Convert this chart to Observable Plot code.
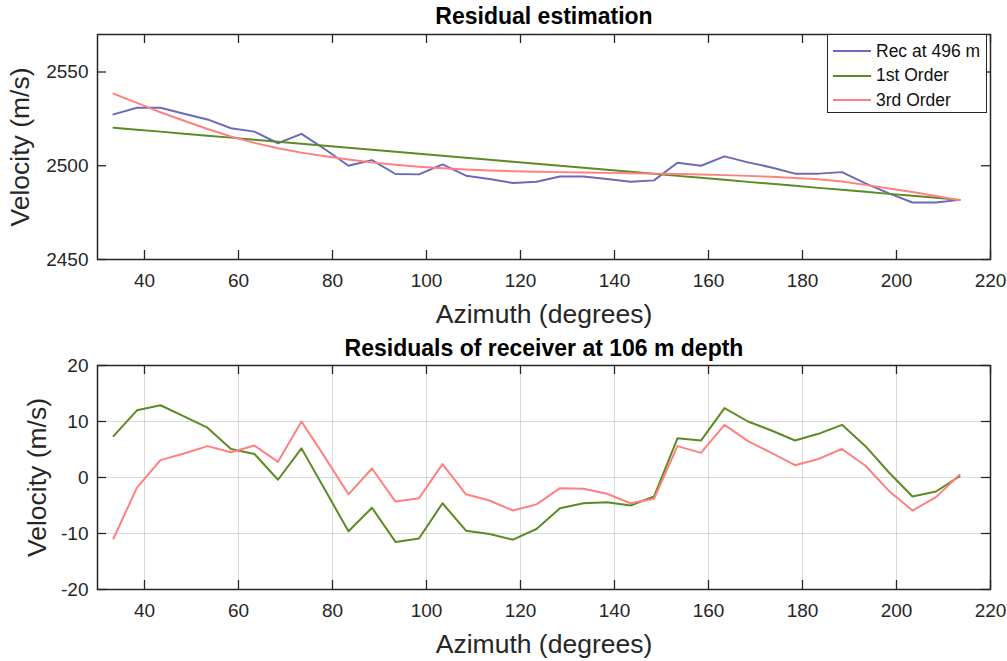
<!DOCTYPE html>
<html><head><meta charset="utf-8">
<script src="https://cdn.jsdelivr.net/npm/d3@7"></script>
<script src="https://cdn.jsdelivr.net/npm/@observablehq/plot@0.6"></script>
<style>
html,body{margin:0;padding:0;background:#fff;overflow:hidden}
#wrap{position:relative;width:1007px;height:661px;font-family:"Liberation Sans",Arial,sans-serif}
#wrap svg{display:block}
#legend{position:absolute;left:827px;top:34px;width:160px;height:79px;border:1px solid #262626;background:#fff;box-sizing:border-box}
.row{position:absolute;left:5px;height:20px;display:flex;align-items:center;font-size:17.5px;color:#111;white-space:nowrap}
.row svg{margin-right:5px}
</style></head>
<body><div id="wrap"><div id="chartTop"></div><div id="chartBot"></div><div id="legend"></div></div>
<script>
// ---- data ----
const azimuth = [33.4,38.4,43.4,48.4,53.4,58.4,63.4,68.4,73.4,78.4,83.4,88.4,93.4,98.4,103.4,108.4,113.4,118.4,123.4,128.4,133.4,138.4,143.4,148.4,153.4,158.4,163.4,168.4,173.4,178.4,183.4,188.4,193.4,198.4,203.4,208.4,213.4];
const recVelocity = [2527.4,2530.9,2530.9,2527.7,2524.7,2520.0,2518.2,2512.0,2517.0,2508.8,2500.0,2503.0,2495.6,2495.4,2500.7,2494.7,2492.9,2490.8,2491.5,2494.3,2494.3,2492.9,2491.5,2492.2,2501.6,2500.0,2505.0,2501.8,2499.1,2495.8,2495.8,2496.6,2490.6,2485.3,2480.4,2480.4,2481.8];
const fit1st = [2520.3,2519.2,2518.2,2517.1,2516.0,2515.0,2513.9,2512.8,2511.7,2510.7,2509.6,2508.5,2507.5,2506.4,2505.3,2504.3,2503.2,2502.1,2501.1,2500.0,2498.9,2497.9,2496.8,2495.7,2494.6,2493.6,2492.5,2491.4,2490.4,2489.3,2488.2,2487.2,2486.1,2485.0,2484.0,2482.9,2481.8];
const fit3rd = [2538.5,2533.5,2528.5,2524.0,2519.6,2515.6,2512.2,2509.3,2507.0,2505.1,2503.3,2501.8,2500.5,2499.5,2498.7,2498.0,2497.5,2497.1,2496.8,2496.6,2496.4,2496.2,2496.0,2495.8,2495.6,2495.3,2495.0,2494.6,2494.1,2493.5,2492.8,2491.6,2489.8,2487.9,2486.0,2483.9,2481.6];
const resid1st = [7.4,12.0,12.9,10.9,8.9,5.1,4.2,-0.4,5.2,-2.2,-9.6,-5.4,-11.5,-10.9,-4.6,-9.5,-10.1,-11.1,-9.2,-5.5,-4.6,-4.4,-5.0,-3.4,7.0,6.6,12.4,10.0,8.4,6.6,7.8,9.4,5.6,0.9,-3.4,-2.5,0.2];
const resid3rd = [-10.9,-1.8,3.1,4.3,5.6,4.5,5.7,2.8,10.0,3.6,-3.0,1.6,-4.3,-3.7,2.4,-3.0,-4.1,-5.9,-4.8,-1.9,-2.0,-2.9,-4.6,-3.8,5.6,4.4,9.4,6.5,4.4,2.2,3.3,5.1,2.1,-2.4,-5.9,-3.5,0.5];
const xTicks = [40,60,80,100,120,140,160,180,200,220];
const topYTicks = [2450,2500,2550];
const botYTicks = [-20,-10,0,10,20];
const seriesNames = ["Rec at 496 m","1st Order","3rd Order"];
const seriesColors = ["#6a6ab9","#5b8b22","#ff8080"];
const titleTop = "Residual estimation";
const titleBot = "Residuals of receiver at 106 m depth";
const xLabel = "Azimuth (degrees)";
const yLabel = "Velocity (m/s)";

(function () {
const AX = "#262626";
const FONT = "'Liberation Sans', Arial, sans-serif";
const W = 1007, ML = 97, MR = 17;
const FW = W - ML - MR;
const fmt = d => String(d);

function ticksAndFrame(FH, yTicks) {
  return [
    Plot.frame({stroke: AX, strokeWidth: 1.5}),
    Plot.tickX(xTicks, {x: d => d, insetTop: FH - 9, stroke: AX, strokeWidth: 1.3}),
    Plot.tickX(xTicks, {x: d => d, insetBottom: FH - 9, stroke: AX, strokeWidth: 1.3}),
    Plot.tickY(yTicks, {y: d => d, insetRight: FW - 9, stroke: AX, strokeWidth: 1.3}),
    Plot.tickY(yTicks, {y: d => d, insetLeft: FW - 9, stroke: AX, strokeWidth: 1.3}),
    Plot.axisX(xTicks, {tickSize: 0, tickPadding: 14, fontSize: 19, fill: AX, tickFormat: fmt, label: null}),
    Plot.axisY(yTicks, {tickSize: 0, tickPadding: 9, fontSize: 19, fill: AX, tickFormat: fmt, label: null})
  ];
}

// top chart
const H1 = 335, MT1 = 34, MB1 = 76, FH1 = H1 - MT1 - MB1;
const chartTop = Plot.plot({
  width: W, height: H1, marginLeft: ML, marginRight: MR, marginTop: MT1, marginBottom: MB1,
  style: {fontFamily: FONT, background: "#fff", overflow: "visible"},
  x: {domain: [30, 220], label: null},
  y: {domain: [2450, 2570], label: null},
  marks: [
    Plot.line(recVelocity, {x: azimuth, y: d => d, stroke: seriesColors[0], strokeWidth: 2}),
    Plot.line(fit1st, {x: azimuth, y: d => d, stroke: seriesColors[1], strokeWidth: 2}),
    Plot.line(fit3rd, {x: azimuth, y: d => d, stroke: seriesColors[2], strokeWidth: 2}),
    ...ticksAndFrame(FH1, topYTicks),
    Plot.text([titleTop], {text: d => d, frameAnchor: "top", textAnchor: "middle", lineAnchor: "bottom", dy: -11, fontSize: 23, fontWeight: "bold", fill: "#000"}),
    Plot.text([xLabel], {text: d => d, frameAnchor: "bottom", textAnchor: "middle", lineAnchor: "bottom", dy: 63, fontSize: 26.5, fill: AX}),
    Plot.text([yLabel], {text: d => d, frameAnchor: "left", textAnchor: "middle", lineAnchor: "bottom", rotate: -90, dx: -69, fontSize: 26.5, fill: AX})
  ]
});
document.getElementById("chartTop").appendChild(chartTop);

// bottom chart
const H2 = 326, MT2 = 30, MB2 = 72, FH2 = H2 - MT2 - MB2;
const chartBot = Plot.plot({
  width: W, height: H2, marginLeft: ML, marginRight: MR, marginTop: MT2, marginBottom: MB2,
  style: {fontFamily: FONT, background: "#fff", overflow: "visible"},
  x: {domain: [30, 220], label: null},
  y: {domain: [-20, 20], label: null},
  marks: [
    Plot.gridX(xTicks.filter(d => d < 220), {stroke: "#000", strokeOpacity: 0.14, strokeWidth: 1}),
    Plot.gridY(botYTicks.filter(d => d > -20 && d < 20), {stroke: "#000", strokeOpacity: 0.14, strokeWidth: 1}),
    Plot.line(resid1st, {x: azimuth, y: d => d, stroke: seriesColors[1], strokeWidth: 2}),
    Plot.line(resid3rd, {x: azimuth, y: d => d, stroke: seriesColors[2], strokeWidth: 2}),
    ...ticksAndFrame(FH2, botYTicks),
    Plot.text([titleBot], {text: d => d, frameAnchor: "top", textAnchor: "middle", lineAnchor: "bottom", dy: -10, fontSize: 23, fontWeight: "bold", fill: "#000"}),
    Plot.text([xLabel], {text: d => d, frameAnchor: "bottom", textAnchor: "middle", lineAnchor: "bottom", dy: 63, fontSize: 26.5, fill: AX}),
    Plot.text([yLabel], {text: d => d, frameAnchor: "left", textAnchor: "middle", lineAnchor: "bottom", rotate: -90, dx: -52, fontSize: 26.5, fill: AX})
  ]
});
document.getElementById("chartBot").appendChild(chartBot);

// legend
const leg = document.getElementById("legend");
const rowCenters = [16, 40.5, 65];
seriesNames.forEach((name, i) => {
  const row = document.createElement("div");
  row.className = "row";
  row.style.top = (rowCenters[i] - 10) + "px";
  row.innerHTML = `<svg width="38" height="4"><line x1="0" y1="2" x2="38" y2="2" stroke="${seriesColors[i]}" stroke-width="2"/></svg><span>${name}</span>`;
  leg.appendChild(row);
});
})();
</script></body></html>
